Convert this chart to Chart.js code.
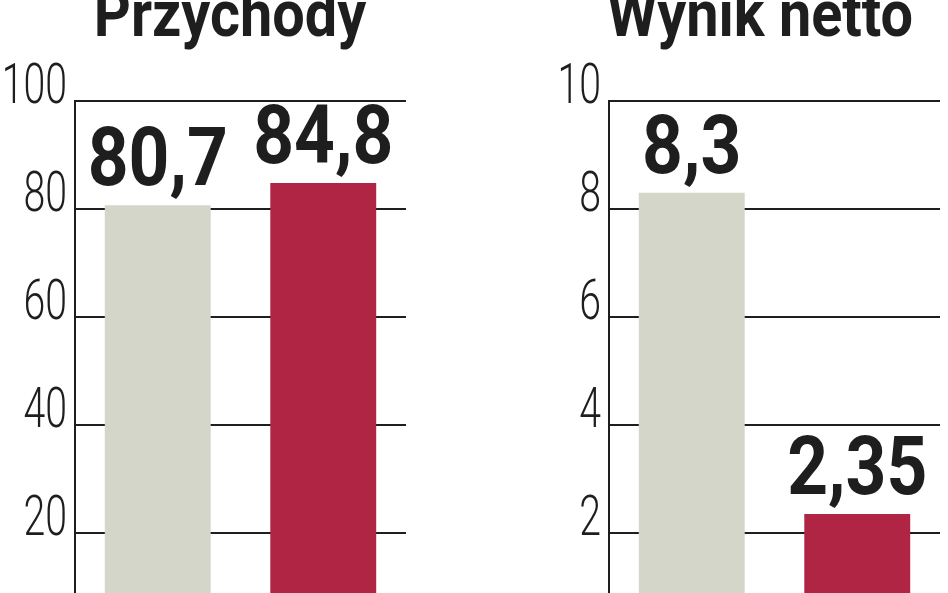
<!DOCTYPE html>
<html>
<head>
<meta charset="utf-8">
<script src="https://cdn.jsdelivr.net/npm/chart.js@4.4.1/dist/chart.umd.min.js"></script>
<style>
  html, body { margin: 0; padding: 0; background: #fff; overflow: hidden; width: 948px; height: 593px; }
  .box { position: absolute; top: 0; height: 681px; }
  #left { left: 0; width: 460px; }
  #right { left: 552px; width: 416px; }
</style>
</head>
<body>
<div class="box" id="left"><canvas id="revenueChart"></canvas></div>
<div class="box" id="right"><canvas id="profitChart"></canvas></div>
<script>
const categories = ['poprzedni okres', 'bieżący okres'];
const revenue = [80.7, 84.8];
const netResult = [8.3, 2.35];
const revenueTicks = [0, 20, 40, 60, 80, 100];
const profitTicks = [0, 2, 4, 6, 8, 10];
const barColors = ['#d5d6ca', '#b02543'];

const FONT = "Roboto, 'DejaVu Sans Condensed', sans-serif";
const INK = '#1e1e1e';

// draw text squeezed horizontally, the original uses a condensed face
function narrowText(ctx, text, x, y, squeeze, align) {
  ctx.save();
  ctx.translate(x, y);
  ctx.scale(squeeze, 1);
  ctx.textAlign = align;
  ctx.fillText(text, 0, 0);
  ctx.restore();
}

const narrowLabels = {
  id: 'narrowLabels',
  afterDraw(chart, args, opts) {
    const ctx = chart.ctx;
    const yScale = chart.scales.y;
    ctx.save();
    ctx.fillStyle = INK;
    ctx.textBaseline = 'middle';

    // y tick labels
    ctx.font = '300 56px ' + FONT;
    opts.ticks.forEach(v => {
      const y = yScale.getPixelForValue(v) - 12;
      narrowText(ctx, String(v), yScale.right - opts.tickPad, y, 0.7, 'right');
    });

    // values over the bars, Polish decimal comma
    ctx.textBaseline = 'alphabetic';
    ctx.font = 'bold 81px ' + FONT;
    const meta = chart.getDatasetMeta(0);
    const values = chart.data.datasets[0].data;
    meta.data.forEach((bar, i) => {
      narrowText(ctx, String(values[i]).replace('.', ','), bar.x, bar.y - 20, 0.88, 'center');
    });

    // chart title, cropped by the top edge
    ctx.font = 'bold 64px ' + FONT;
    narrowText(ctx, opts.title, opts.titleX, 36, 0.9, 'center');
    ctx.restore();
  }
};

function makeChart(canvasId, title, values, ticks, axisWidth, padRight, tickPad, titleX) {
  const ctx = document.getElementById(canvasId).getContext('2d');
  return new Chart(ctx, {
    type: 'bar',
    data: {
      labels: categories,
      datasets: [{
        data: values,
        backgroundColor: barColors,
        borderWidth: 0,
        barPercentage: 0.64,
        categoryPercentage: 1
      }]
    },
    options: {
      responsive: true,
      maintainAspectRatio: false,
      animation: false,
      layout: { padding: { top: 101, right: padRight, bottom: 40, left: 0 } },
      plugins: {
        legend: { display: false },
        tooltip: { enabled: false },
        narrowLabels: { title: title, titleX: titleX, ticks: ticks, tickPad: tickPad }
      },
      scales: {
        x: { display: false },
        y: {
          min: ticks[0],
          max: ticks[ticks.length - 1],
          afterBuildTicks: scale => { scale.ticks = ticks.map(v => ({ value: v })); },
          afterFit: scale => { scale.width = axisWidth; },
          border: { display: true, color: INK, width: 2 },
          grid: { color: INK, lineWidth: 2, drawTicks: false },
          ticks: { display: false }
        }
      }
    },
    plugins: [narrowLabels]
  });
}

makeChart('revenueChart', 'Przychody', revenue, revenueTicks, 75, 54, 8, 230);
makeChart('profitChart', 'Wynik netto', netResult, profitTicks, 57, 28, 8, 208);
</script>
</body>
</html>
